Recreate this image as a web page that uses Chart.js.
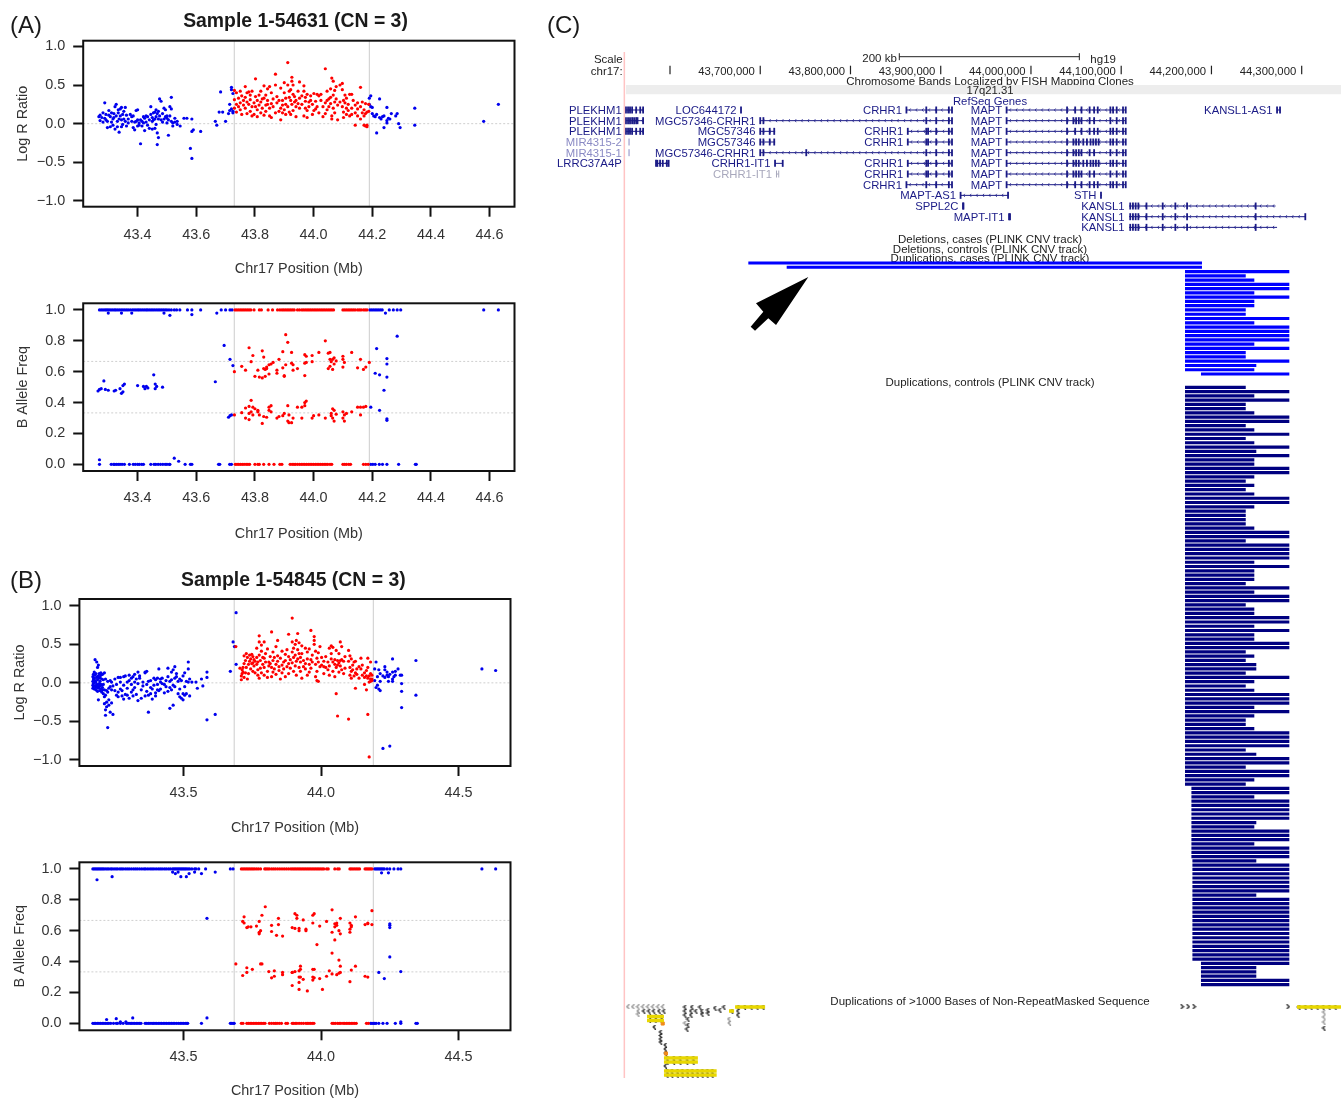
<!DOCTYPE html>
<html><head><meta charset="utf-8">
<script src="https://cdn.jsdelivr.net/npm/chart.js@4"></script>
<style>
html,body{margin:0;padding:0;background:#fff;width:1341px;height:1100px;overflow:hidden}
canvas{position:absolute;filter:blur(.5px)}
</style></head><body>
<canvas id="a1" style="left:0px;top:0px" width="540" height="278"></canvas>
<canvas id="a2" style="left:0px;top:285px" width="540" height="258"></canvas>
<canvas id="b1" style="left:0px;top:560px" width="540" height="277"></canvas>
<canvas id="b2" style="left:0px;top:845px" width="540" height="255"></canvas>
<canvas id="c" style="left:540px;top:0px" width="801" height="1100"></canvas>
<script>
// ---------- Panel A data: each row is [position, value, value, ...] ----------
const xTicksA=[43.4,43.6,43.8,44.0,44.2,44.4,44.6];
const xTicksB=[43.5,44.0,44.5];
const lrrTicks=[-1,-0.5,0,0.5,1];
const bafTicks=[0,0.2,0.4,0.6,0.8,1];
const bafGuides=[1/3,2/3];
const breaksA=[43.7295,44.19];
const breaksB=[43.684,44.19];

const a1Blue=[[43.268,.09],[43.272,.04,.11],[43.278,.08],[43.282,.14,.02],[43.288,.27,.07],[43.292,.12,.05],[43.297,.03,-.05],[43.302,.11,.17],[43.307,.09,-.04],[43.311,.14,.02],[43.316,-.02,.06],[43.319,.13,.08],[43.323,-.07,.22],[43.327,.25,.1],[43.331,.03,-.04],[43.334,.14,.18],[43.337,-.11,.06],[43.341,.19,.1],[43.345,.21,-.04,.05],[43.349,.12,-.01],[43.353,.16,.06],[43.358,.03,.21],[43.362,.11,-.03],[43.368,.06,.01],[43.375,.12],[43.38,.09,.03],[43.385,.1,-.05],[43.39,.02,-.08],[43.395,.17,.03],[43.4,.18,.05,-.03],[43.405,.01,-.02],[43.41,.05,-.26],[43.415,.03,-.03],[43.42,.09,.01],[43.424,.07,-.09],[43.429,.1,.02],[43.434,.09,-.02],[43.44,-.06,.05],[43.445,.22,.12],[43.45,.08,-.07,.03],[43.454,.14,.05],[43.459,.15,.06,-.06],[43.463,.09,.18,-.01],[43.467,.13,-.12,-.27],[43.471,.16,.06,-.18],[43.475,.32,.1],[43.48,.29,.05],[43.485,.13,.02],[43.49,.2,.06],[43.495,.18,.09],[43.5,.1,.07,.01],[43.505,.05,-.15],[43.51,.22,.1],[43.515,.34,.03,.19],[43.52,.01,-.03],[43.527,.07,.02],[43.535,-.01,.03],[43.545,-.03],[43.558,.07],[43.568,.07],[43.58,-.32],[43.585,.06,-.45,-.1],[43.59,-.08],[43.615,-.1],[43.665,.03],[43.67,-.02],[43.678,.15],[43.683,.41],[43.69,.15],[43.7,.03],[43.71,.13],[43.714,.17,.25],[43.72,.47,.44,.19],[43.725,.39,.14,.16],[44.19,.33,.25],[44.195,.36,.22],[44.2,.21,.13],[44.205,.1],[44.21,.09],[44.215,.12,-.12],[44.225,.32,.08],[44.23,.06],[44.235,.09],[44.24,.1,-.05],[44.25,.21,.04,.01],[44.255,.07],[44.26,.06],[44.265,.13],[44.28,.1],[44.285,.13],[44.29,0],[44.295,-.05],[44.345,.2,-.02],[44.58,.03],[44.63,.25]];
const a1Red=[[43.73,.43,.31,.2],[43.737,.25,.4,.15],[43.744,.33,.22],[43.75,.42,.27,.18],[43.755,.36,.12],[43.761,.3,.24],[43.767,.48,.34,.2],[43.773,.28,.13,.4],[43.779,.25,.41],[43.784,.31,.37,.16],[43.79,.42,.22,.1],[43.797,.27,.12],[43.802,.58,.35,.22],[43.808,.3,.18,.09],[43.814,.37,.24],[43.82,.42,.28,.14],[43.825,.2,.32],[43.831,.49,.33,.11],[43.837,.24,.37,.16],[43.843,.45,.25,.3],[43.85,.2,.48,.1],[43.856,.08,.26,.4],[43.862,.22,.32],[43.87,.64,.5,.14],[43.875,.27,.35],[43.882,.16,.3],[43.888,.46,.05,.2],[43.894,.3,.24,.14],[43.9,.53,.4,.18],[43.905,.25,.12,.33],[43.912,.79,.5,.22],[43.917,.34,.15,.42],[43.922,.44,.3,.12],[43.926,.6,.55,.25],[43.93,.38,.5,.17],[43.935,.28,.35],[43.94,.3,.22,.09],[43.947,.42,.26],[43.952,.54,.33,.2],[43.96,.36,.25],[43.967,.49,.42,.1],[43.972,.34,.2,.29],[43.978,.38,.08,.17],[43.984,.28,.22],[43.99,.3,.36],[43.996,.25,.12],[44.001,.39,.17],[44.007,.29,.19],[44.012,.38,.22],[44.018,.36,.14],[44.025,.38,.3],[44.032,.09,.22],[44.04,.71,.27,.13],[44.046,.42,.3,.18],[44.052,.22,.32],[44.058,.45,.34,.26],[44.062,.59,.1,.06],[44.067,.55,.37,.2],[44.072,.28,.14,.43],[44.077,.48,.32],[44.082,.24,.05],[44.09,.5,.28],[44.098,.52,.44,.22],[44.102,.3,.15,.08],[44.107,.37,.27],[44.112,.2,.12,.33],[44.118,.25,.17],[44.123,.38,.1],[44.13,.38,.2,.12],[44.135,.3],[44.142,-.02,.14,.24],[44.15,.27,.19,.1],[44.16,.47,.22,.06],[44.166,.14,.28],[44.172,.18,.1,-.02],[44.177,.26,-.03,.13],[44.182,-.04,-.02,.15],[44.188,.25,.16]];
const a2BlueTop=[43.27,43.276,43.282,43.288,43.293,43.298,43.303,43.309,43.315,43.321,43.326,43.332,43.338,43.344,43.35,43.356,43.362,43.368,43.375,43.382,43.388,43.394,43.4,43.405,43.411,43.417,43.423,43.429,43.434,43.44,43.446,43.452,43.458,43.464,43.47,43.476,43.482,43.488,43.494,43.5,43.507,43.515,43.525,43.533,43.544,43.57,43.585,43.615,43.685,43.7,43.715,43.722,44.192,44.198,44.204,44.21,44.216,44.222,44.228,44.234,44.258,44.272,44.285,44.297,44.58,44.63];
const a2BlueBottom=[43.27,43.31,43.318,43.322,43.328,43.334,43.34,43.347,43.355,43.372,43.385,43.392,43.4,43.406,43.414,43.42,43.445,43.456,43.462,43.47,43.478,43.486,43.494,43.5,43.508,43.51,43.562,43.58,43.585,43.676,43.68,43.714,43.72,44.195,44.202,44.21,44.224,44.235,44.25,44.29,44.347,44.35];
const a2BlueMid=[[43.265,.475],[43.27,.485,.03],[43.276,.49],[43.285,.54],[43.29,.485],[43.3,.48,.98],[43.32,.475],[43.325,.48],[43.34,.49],[43.345,.46,.98],[43.35,.47,.51],[43.355,.52],[43.38,.98],[43.4,.51],[43.42,.505],[43.425,.49],[43.43,.505],[43.435,.495],[43.455,.58],[43.46,.49,.52],[43.465,.505],[43.485,.5],[43.49,.98],[43.51,.965],[43.525,.04],[43.54,.02],[43.585,.97],[43.665,.535],[43.67,.98],[43.695,.77],[43.71,.305],[43.715,.68,.315],[43.72,.32],[43.725,.64],[44.195,.37],[44.21,.59],[44.215,.75],[44.225,.58,.35],[44.24,.48],[44.245,.98],[44.25,.565,.65,.685,.295,.285],[44.285,.83]];
const a2RedTop=[43.732,43.738,43.744,43.75,43.756,43.762,43.768,43.774,43.78,43.786,43.797,43.815,43.822,43.845,43.86,43.877,43.885,43.892,43.898,43.904,43.91,43.916,43.922,43.928,43.934,43.945,43.952,43.96,43.966,43.972,43.978,43.984,43.99,43.996,44.002,44.008,44.014,44.02,44.026,44.032,44.038,44.044,44.05,44.056,44.062,44.068,44.1,44.106,44.112,44.118,44.124,44.13,44.136,44.142,44.15,44.156,44.162,44.17,44.176,44.182];
const a2RedBottom=[43.733,43.739,43.745,43.751,43.757,43.763,43.77,43.776,43.782,43.8,43.81,43.815,43.83,43.848,43.865,43.885,43.892,43.92,43.927,43.933,43.938,43.945,43.952,43.958,43.964,43.97,43.976,43.982,43.988,43.994,44.0,44.006,44.012,44.018,44.024,44.03,44.036,44.042,44.048,44.056,44.062,44.1,44.106,44.112,44.12,44.126,44.17,44.178,44.186];
const a2RedMid=[[43.73,.6,.32],[43.755,.635,.335],[43.768,.61,.3,.365],[43.78,.755,.375,.33,.29],[43.787,.665,.415,.34],[43.793,.705,.37,.32],[43.8,.57,.36],[43.81,.61,.34,.35],[43.815,.565,.32],[43.825,.735,.56,.265],[43.83,.695,.62,.31],[43.835,.57,.615],[43.84,.62,.63,.305],[43.848,.645,.585,.37,.35],[43.855,.65,.38,.34],[43.862,.66],[43.875,.61,.59,.3],[43.882,.68,.31],[43.895,.73,.625,.315],[43.9,.575,.57,.33],[43.905,.84,.645],[43.912,.79,.38,.28],[43.916,.27,.32],[43.925,.725,.655,.27],[43.93,.61,.645,.3],[43.945,.62,.37],[43.96,.3,.37],[43.97,.71,.655,.575,.4,.38],[43.975,.7,.66,.41],[43.995,.705,.665,.3],[44.0,.315],[44.018,.725,.32],[44.04,.8,.3],[44.05,.62,.72],[44.056,.725,.68,.635],[44.06,.665,.33,.315],[44.065,.615,.68,.3,.36],[44.07,.69,.65,.35,.28],[44.077,.67,.325],[44.1,.7,.68,.63,.34,.3],[44.105,.66,.32,.28],[44.112,.33],[44.13,.725,.34],[44.15,.625,.37],[44.16,.68,.37,.32],[44.17,.615,.37],[44.178,.63,.375],[44.19,.66]];

// ---------- Panel B data ----------
const b1Blue=[[43.17,.08,.02,-.03,-.07],[43.172,.11,.05,-.01,-.05],[43.175,.14,.06,0,-.08],[43.178,.3,.1,.03,-.04],[43.181,.12,.01,-.06,-.09],[43.184,.27,.07,-.02,-.05],[43.187,.2,.04,-.03,-.11],[43.19,.23,.09,-.07,-.22],[43.193,.12,.06,-.01,-.05],[43.196,.07,.02,-.04,-.1],[43.199,.1,.13,-.02,-.08],[43.202,.05,-.03,-.12],[43.205,.11,-.06,-.09],[43.208,.04,-.02,-.14],[43.212,.13,-.09,-.18,-.27],[43.216,.05,-.16,-.42,-.35],[43.22,-.1,-.25,-.31],[43.224,.02,-.12,-.58],[43.228,-.22,-.29,-.07],[43.233,.03,-.05,-.38],[43.238,-.09,-.26,.01],[43.243,-.04,-.41],[43.25,.05,-.1],[43.256,-.02,-.16],[43.262,.07,-.12,-.18],[43.27,.01,-.08,.07],[43.276,-.17,-.1],[43.282,.08,-.03,-.21],[43.288,-.15,.09],[43.295,.01,-.07,-.16],[43.302,.1,.03,-.2],[43.31,-.12,-.02,.06],[43.316,.08,-.09,-.17],[43.322,.11,.01,-.06],[43.328,-.15,.05],[43.334,.14,-.01,-.23],[43.34,.06,.09],[43.346,-.09,-.2],[43.352,.01,-.04],[43.36,.14,.13,-.17],[43.366,.15,-.11,-.02],[43.372,.02,-.16,-.38],[43.38,-.06,-.14,.03],[43.386,-.08,-.21],[43.392,.06,-.03],[43.398,.04,-.17,-.13],[43.405,.06,-.02,-.09],[43.41,.18,-.1],[43.416,-.08,.05,.01],[43.422,-.01,.06],[43.43,-.13,-.02],[43.436,.03,-.05],[43.443,.19,.08,-.11],[43.45,.02,-.06,-.33],[43.456,.14,.04,-.09],[43.462,.17,-.03,-.29],[43.468,.21,.06,-.05],[43.474,.08,.12],[43.48,-.14,.02],[43.486,.05,-.08,-.18],[43.492,.03,-.2],[43.498,-.22,-.14,.09],[43.504,.13,-.05,-.16],[43.51,.02,-.14],[43.517,.27,.18,.01],[43.522,-.17,.05],[43.53,.01],[43.545,.01],[43.55,-.07],[43.565,.05],[43.57,-.04],[43.585,.14,.07,-.48],[43.615,-.41],[43.67,.15],[43.68,.53],[43.685,.47],[43.691,.91,.24],[44.195,.18,.03],[44.2,.27,-.06],[44.205,.08,-.03],[44.21,.17,-.08],[44.215,.12,.02,-.1],[44.225,.09,-.85],[44.232,.17,.21,.07],[44.24,.1,.14],[44.245,.08,.02],[44.25,.11,-.82],[44.26,.14,.02,.05,.31],[44.265,.08],[44.27,.15,.1],[44.28,.18],[44.288,.1],[44.293,.1,-.01,-.11,-.32],[44.345,.29,-.16],[44.585,.18],[44.635,.16]];
const b1Red=[[43.69,.47],[43.705,.19],[43.71,.09,.04],[43.713,.17,.12],[43.716,.2,.14],[43.72,.35,.25,.07],[43.725,.29,.13],[43.728,.38,.2],[43.732,.33,.05],[43.736,.24,.12],[43.74,.28,.36],[43.744,.18,.31],[43.748,.37,.25],[43.752,.26,.15,.34],[43.756,.3,.22],[43.76,.13,.28],[43.766,.45,.33,.24],[43.77,.27,.1,.17],[43.775,.36,.61,.53,.06],[43.779,.29,.19],[43.783,.49,.41,.13],[43.788,.33,.24],[43.793,.53,.32,.1,.2],[43.798,.38,.27],[43.805,.44,.15,.07],[43.81,.27,.22],[43.815,.34,.25],[43.82,.66,.2,.08],[43.825,.4,.29,.14],[43.83,.33,.18],[43.836,.47,.24,.11],[43.842,.55,.28,.35],[43.847,.16,.21],[43.852,.32,.05],[43.858,.41,.23,.13],[43.864,.27,.18],[43.87,.37,.29,.08],[43.876,.43,.21],[43.882,.63,.25,.34,.12],[43.888,.3,.19],[43.895,.84,.53,.4,.26],[43.9,.45,.33,.15],[43.906,.5,.36,.22],[43.91,.55,.28,.1],[43.915,.64,.43,.31],[43.92,.38,.2,.52],[43.925,.33,.15,.27],[43.93,.48,.38,.06],[43.936,.29,.21],[43.943,.45,.25,.18],[43.95,.4,.31,.1],[43.957,.44,.24,.14],[43.963,.68,.3,.19],[43.968,.36,.27],[43.975,.6,.55,.5],[43.98,.41,.24,.08],[43.985,.32,.15,.03],[43.99,.39,.27,.02],[43.996,.47,.21],[44.002,.33,.23],[44.01,.28,.21,.12],[44.017,.34,.2],[44.025,.27,.17],[44.03,.45,.22,.1],[44.037,.48,.38,.31],[44.043,.46,.27,.15],[44.05,.3,.24,.08],[44.055,.42,.2,-.14],[44.06,.29,.23,-.43],[44.065,.38,.26,.14],[44.07,.53,.29,.22],[44.075,.47,.3,.17],[44.082,.28,.12],[44.087,.34,.19],[44.1,.42,.28,-.47],[44.105,.35,.2,.1],[44.11,.31,.15,.06],[44.115,.23,.17],[44.12,.09,.27],[44.125,.28,.13,-.07],[44.13,.18,.11],[44.138,.21,.06],[44.145,.32,.18],[44.15,.1,.23],[44.158,.07,-.02,.13],[44.165,.09,.16,-.09],[44.17,.06,.2,.32,-.41],[44.175,.01,.09,-.96],[44.18,.12,.05,.02,.27],[44.185,.1,.03,.05]];
const b2BlueTop=[43.17,43.175,43.18,43.185,43.19,43.195,43.2,43.205,43.21,43.216,43.222,43.228,43.235,43.24,43.247,43.254,43.26,43.268,43.274,43.28,43.288,43.295,43.302,43.31,43.318,43.325,43.332,43.34,43.348,43.356,43.362,43.37,43.378,43.385,43.392,43.4,43.408,43.415,43.422,43.43,43.437,43.445,43.452,43.46,43.465,43.47,43.475,43.48,43.485,43.49,43.495,43.5,43.505,43.51,43.516,43.522,43.53,43.54,43.545,43.555,43.58,43.67,43.68,44.195,44.2,44.205,44.21,44.215,44.22,44.225,44.23,44.24,44.25,44.265,44.28,44.29,44.585,44.635];
const b2BlueBottom=[43.17,43.175,43.18,43.186,43.192,43.198,43.204,43.21,43.216,43.222,43.228,43.235,43.245,43.255,43.26,43.27,43.28,43.292,43.298,43.305,43.31,43.316,43.322,43.328,43.334,43.34,43.345,43.36,43.366,43.372,43.378,43.385,43.39,43.396,43.402,43.408,43.414,43.42,43.426,43.432,43.438,43.444,43.45,43.456,43.462,43.468,43.475,43.482,43.488,43.494,43.5,43.506,43.512,43.515,43.565,43.67,43.675,43.68,43.684,44.18,44.185,44.19,44.195,44.2,44.21,44.225,44.24,44.27,44.29,44.345,44.35];
const b2BlueMid=[[43.185,.93],[43.22,.025],[43.24,.95],[43.255,.03],[43.27,.01],[43.315,.035],[43.29,.01],[43.46,.98],[43.47,.97],[43.48,.98],[43.49,.95],[43.51,.95],[43.52,.97],[43.54,.98],[43.565,.97],[43.585,.035,.68],[43.615,.98],[44.21,.33],[44.22,.975],[44.23,.29],[44.245,.975],[44.25,.645,.635,.62,.43],[44.29,.01,.335]];
const b2RedTop=[43.71,43.716,43.722,43.728,43.734,43.74,43.746,43.752,43.758,43.765,43.772,43.78,43.795,43.8,43.806,43.812,43.82,43.827,43.834,43.842,43.85,43.858,43.866,43.874,43.882,43.89,43.896,43.902,43.908,43.914,43.92,43.926,43.932,43.938,43.944,43.95,43.956,43.962,43.968,43.974,43.98,43.986,43.992,43.998,44.004,44.01,44.02,44.026,44.05,44.06,44.066,44.105,44.11,44.116,44.122,44.128,44.134,44.14,44.16,44.165,44.17,44.175,44.18,44.185];
const b2RedBottom=[43.71,43.716,43.73,43.736,43.742,43.748,43.754,43.76,43.766,43.772,43.778,43.784,43.79,43.796,43.812,43.82,43.828,43.834,43.84,43.848,43.856,43.872,43.878,43.895,43.9,43.906,43.912,43.92,43.928,43.936,43.945,43.95,43.956,43.962,43.968,43.974,44.04,44.046,44.052,44.06,44.066,44.072,44.08,44.086,44.092,44.098,44.104,44.11,44.116,44.122,44.128,44.165,44.172];
const b2RedMid=[[43.69,.385],[43.715,.66,.31],[43.72,.69,.65],[43.73,.36,.62,.33],[43.735,.625],[43.745,.625],[43.75,.35],[43.765,.63],[43.775,.66,.59,.58],[43.78,.385,.6],[43.785,.7,.385],[43.797,.755],[43.81,.335],[43.82,.635,.595,.295],[43.83,.34,.305],[43.838,.57],[43.845,.68,.64],[43.86,.565,.33,.315],[43.895,.62,.33,.245,.33],[43.905,.71,.615,.335],[43.912,.68,.7],[43.92,.615,.6,.34,.3,.22,.265],[43.925,.37,.3,.35],[43.935,.67,.285],[43.945,.6,.61],[43.95,.21],[43.97,.7,.65,.3,.35,.28],[43.975,.71,.295,.35],[43.985,.51],[43.995,.63,.29],[44.005,.22],[44.02,.66,.305],[44.03,.34],[44.04,.735,.59,.455,.32],[44.05,.645,.54,.625],[44.057,.65,.635,.315],[44.065,.6,.41,.325],[44.07,.68,.58,.37,.33],[44.105,.65,.61,.59,.27],[44.11,.625,.635,.345],[44.125,.69,.37],[44.16,.64,.305],[44.17,.645,.65,.3],[44.185,.73,.64]];

// ---------- Panel C data ----------
const chrTicks=[43.6,43.7,43.8,43.9,44.0,44.1,44.2,44.3];
const chrTickLabels=["","43,700,000","43,800,000","43,900,000","44,000,000","44,100,000","44,200,000","44,300,000"];
const scaleBar=[43.8541,44.0536];
const bandSpan=[43.5512,44.3436];
const windowEdge=43.5494;
const plekExons=[43.5512,43.5535,43.5557,43.558,43.5625,43.567,43.5702];
const plekExons2=[43.5512,43.5535,43.5557,43.558,43.5602,43.5625,43.564,43.5702];
const crhrExons=[43.862,43.884,43.895,43.909,43.9125];
const crhrExonsB=[43.8635,43.884,43.886,43.895,43.909,43.9125];
const mgcCrhrExons=[43.7,43.7035,43.884,43.895,43.909,43.9125];
const mgcCrhrExonsB=[43.7,43.7035,43.751,43.884,43.895,43.909,43.9125];
const mgcExons=[43.7,43.7035,43.7105,43.7155];
const maptExons=[43.973,44.04,44.049,44.056,44.065,44.07,44.074,44.088,44.091,44.095,44.102,44.105];
const maptExonsB=[43.973,44.04,44.047,44.05,44.053,44.056,44.065,44.07,44.088,44.095,44.102,44.105];
const maptExonsC=[43.973,44.04,44.047,44.05,44.053,44.058,44.062,44.066,44.069,44.072,44.075,44.088,44.091,44.095,44.102,44.105];
const lrrcExons=[43.5845,43.586,43.589,43.592,43.5965,43.5985];
const kanslExons=[44.11,44.113,44.116,44.119,44.128,44.146,44.16,44.173,44.249];
const kanslExonsLong=[44.11,44.113,44.116,44.119,44.128,44.146,44.16,44.173,44.249,44.304];
// [name, row, start, end, exons, shade, label in left margin]
const genes=[
["PLEKHM1",0,43.5512,43.5702,plekExons,0,1],["LOC644172",0,43.6787,43.6795,[43.6787],0,0],["CRHR1",0,43.862,43.9125,crhrExons,0,0],["MAPT",0,43.973,44.105,maptExons,0,0],["KANSL1-AS1",0,44.2727,44.276,[44.2727,44.276],0,0],
["PLEKHM1",1,43.5512,43.5702,plekExons2,0,1],["MGC57346-CRHR1",1,43.6997,43.9125,mgcCrhrExons,0,0],["MAPT",1,43.973,44.105,maptExonsB,0,0],
["PLEKHM1",2,43.5512,43.5702,plekExons,0,1],["MGC57346",2,43.6997,43.7165,mgcExons,0,0],["CRHR1",2,43.8635,43.9125,crhrExonsB,0,0],["MAPT",2,43.973,44.105,maptExons,0,0],
["MIR4315-2",3,43.5546,43.5555,[43.5546],1,1],["MGC57346",3,43.6997,43.7165,mgcExons,0,0],["CRHR1",3,43.8635,43.9125,crhrExonsB,0,0],["MAPT",3,43.973,44.105,maptExonsC,0,0],
["MIR4315-1",4,43.5546,43.5555,[43.5546],1,1],["MGC57346-CRHR1",4,43.6997,43.9125,mgcCrhrExonsB,0,0],["MAPT",4,43.973,44.105,maptExonsB,0,0],
["LRRC37A4P",5,43.5845,43.5985,lrrcExons,0,1],["CRHR1-IT1",5,43.7164,43.7249,[43.7164,43.7249],0,0],["CRHR1",5,43.8635,43.9125,crhrExonsB,0,0],["MAPT",5,43.973,44.105,maptExonsC,0,0],
["CRHR1-IT1",6,43.718,43.7205,[43.718,43.7205],2,0],["CRHR1",6,43.8635,43.9125,crhrExonsB,0,0],["MAPT",6,43.973,44.105,maptExonsB,0,0],
["CRHR1",7,43.862,43.9125,crhrExons,0,0],["MAPT",7,43.973,44.105,maptExons,0,0],
["MAPT-AS1",8,43.922,43.9746,[43.922,43.9746],0,0],["STH",8,44.0776,44.0785,[44.0776],0,0],
["SPPL2C",9,43.9247,43.9255,[43.9247,43.9252],0,0],["KANSL1",9,44.1087,44.271,kanslExons,0,0],
["MAPT-IT1",10,43.9757,43.977,[43.9757,43.9768],0,0],["KANSL1",10,44.1087,44.304,kanslExonsLong,0,0],
["KANSL1",11,44.1087,44.2727,kanslExons,0,0]];
const A=44.1707,B=44.1778,C=44.1789,D=44.1884,E=44.1895;
const F=44.2863,S=44.238,M=44.2475,L=44.2497;
const dupCaseStarts=[43.6868,43.7293,A,A,A,A,A,A,A,A,A,A,A,A,A,A,A,A,A,A,A,A,A,A,A,A,D];
const dupCaseEnds=[44.1895,44.1895,F,S,M,F,F,M,F,M,M,S,S,F,M,F,F,F,F,M,F,S,S,F,L,M,F];
const dupCtrlStarts=[A,A,A,A,A,A,A,A,A,A,A,A,A,A,A,A,A,A,A,A,A,A,A,A,A,A,A,A,A,A,A,A,A,A,A,
A,A,A,A,A,A,A,A,A,A,A,A,A,A,A,A,A,A,A,A,A,A,A,A,A,A,A,A,A,A,A,A,A,A,A,A,A,A,A,A,A,A,A,A,A,A,A,A,A,A,A,A,A,A,A,A,A,A,A,B,
B,B,B,B,B,B,B,B,B,B,B,B,B,B,B,B,C,C,C,C,C,C,C,C,C,C,C,C,C,C,C,C,C,C,C,C,C,C,C,C,D,D,D,D,D,D,D,D,D,E,E];
const dupCtrlEnds=[S,F,M,F,S,S,M,F,F,S,M,F,S,M,F,L,F,M,M,F,F,M,S,M,S,M,F,F,M,S,S,S,S,M,F,
F,S,F,F,F,F,M,F,M,M,M,S,F,M,F,F,S,M,M,F,F,M,F,M,M,F,F,S,M,S,L,L,S,F,M,S,M,F,F,F,M,F,M,S,S,M,F,F,F,F,S,L,F,F,S,F,F,M,S,F,
F,M,F,F,F,F,F,L,M,F,F,F,M,F,F,F,L,F,F,F,F,F,F,F,L,F,F,F,F,F,F,F,F,F,F,F,F,F,F,F,F,L,L,L,F,F];
// non-repeat duplications: [position, track position], and yellow spans [start,end,track]
const segYellow=[[43.5745,43.5933,1016.5],[43.5745,43.5933,1020.5],[43.5933,43.6309,1058],[43.5933,43.6309,1062],[43.5933,43.6517,1071],[43.5933,43.6517,1075],[43.6721,43.7054,1007],[43.6654,43.671,1011],[44.2948,44.3436,1007]];
const segOrange=[[43.5919,1023.5],[43.5955,1053.5]];
const segGrey=[[43.5535,1006.7],[43.559,1006.7],[43.5645,1006.7],[43.57,1006.7],[43.5755,1006.7],[43.581,1006.7],[43.5867,1006.7],[43.592,1006.7],[43.565,1011],[43.5645,1014],[43.6655,1019],[43.666,1023],[43.6166,1023],[44.3247,1012],[44.3247,1017],[44.3247,1022]];
const segLeft=[[43.571,1011],[43.5767,1011],[43.582,1011],[43.588,1011],[43.5933,1011],[43.5773,1016.5],[43.5835,1016.5],[43.59,1016.5],[43.5773,1020.5],[43.5835,1020.5],[43.59,1020.5],[43.5828,1027],[43.5897,1032],[43.5897,1035.5],[43.5897,1039],[43.5897,1042],[43.595,1045],[43.595,1049],[43.595,1053],[43.5967,1058],[43.604,1058],[43.611,1058],[43.6186,1058],[43.6255,1058],[43.5967,1062],[43.604,1062],[43.611,1062],[43.6186,1062],[43.6255,1062],[43.595,1066],[43.5967,1071],[43.602,1071],[43.608,1071],[43.6133,1071],[43.619,1071],[43.6244,1071],[43.63,1071],[43.6355,1071],[43.641,1071],[43.6466,1071],[43.5967,1075],[43.602,1075],[43.608,1075],[43.6133,1075],[43.619,1075],[43.6244,1075],[43.63,1075],[43.6355,1075],[43.641,1075],[43.6466,1075],[43.6166,1007],[43.6166,1011],[43.6166,1015],[43.6199,1019],[43.6244,1007],[43.6233,1011],[43.6233,1015],[43.6288,1011],[43.6199,1025],[43.6188,1029],[43.6355,1011],[43.6421,1010],[43.6499,1008],[43.6554,1010],[43.6598,1007],[43.6332,1007],[43.6421,1013],[43.6355,1014],[43.6754,1007],[43.6826,1007],[43.6898,1007],[43.6964,1007],[43.703,1007],[43.6685,1011],[43.6754,1011],[43.6754,1015],[44.297,1007],[44.3037,1007],[44.3103,1007],[44.317,1007],[44.3236,1007],[44.3303,1007],[44.337,1007],[44.3247,1028]];
const segRight=[[44.1674,1006.7],[44.174,1006.7],[44.1807,1006.7],[44.2848,1006.7]];
const arrowOutline=[[43.7533,277],[43.6953,303.3],[43.7034,311.7],[43.6894,326.7],[43.6942,330.7],[43.7089,318.3],[43.7175,325],[43.7533,277]];
const cTexts=[["Scale",43.5476,60,"right"],["chr17:",43.5476,71.7,"right"],["200 kb",43.8513,59,"right"],["hg19",44.0658,60,"left"],
["Chromosome Bands Localized by FISH Mapping Clones",43.9546,82,"center"],
["Deletions, cases (PLINK CNV track)",43.9546,240,"center"],["Deletions, controls (PLINK CNV track)",43.9546,249.5,"center"],["Duplications, cases (PLINK CNV track)",43.9546,259,"center"],
["Duplications, controls (PLINK CNV track)",43.9546,383,"center"],["Duplications of >1000 Bases of Non-RepeatMasked Sequence",43.9546,1002,"center"]];

// ---------- Helpers ----------
const FONT='"Liberation Sans", Arial, sans-serif';
const BLUE='#0000ee',RED='#ff0000',GUIDE='#cfcfcf',BREAK='#cccccc';
const cols=rows=>rows.flatMap(r=>r.slice(1).map(v=>({x:r[0],y:v})));
const band=(xs,v)=>xs.map(x=>({x,y:v}));
const fmt=v=>(v<0?'\u2212':'')+Math.abs(v).toFixed(1);

const boxPlugin={id:'box',afterDatasetsDraw(ch){const a=ch.chartArea,c=ch.ctx;c.save();c.lineWidth=2;c.strokeStyle='#111';c.strokeRect(a.left,a.top,a.right-a.left,a.bottom-a.top);c.restore();}};
const cornerLabel=(text,x,y,font,align)=>({id:'corner'+text.replace(/\W/g,''),afterDraw(ch){const c=ch.ctx;c.save();c.font=font||('24px '+FONT);c.fillStyle='#1a1a1a';c.textAlign=align||'left';c.textBaseline='middle';c.fillText(text,x,y);c.restore();}});

function panel(id,o){
  const xr=o.xRange,yr=o.yRange;
  const hl=o.guides.map(g=>({type:'scatter',data:[{x:xr[0],y:g},{x:xr[1],y:g}],showLine:true,borderColor:GUIDE,borderWidth:1,borderDash:[2,2],pointRadius:0,order:5}));
  const vl=o.breaks.map(b=>({type:'scatter',data:[{x:b,y:yr[0]},{x:b,y:yr[1]}],showLine:true,borderColor:BREAK,borderWidth:1,pointRadius:0,order:4}));
  const pts=(data,col)=>({data,backgroundColor:col,borderColor:col,pointRadius:1.6,pointBorderWidth:0,showLine:false,order:col===RED?1:2});
  const extra=[];
  if(o.corner)extra.push(cornerLabel(...o.corner));
  if(o.title)extra.push(cornerLabel(o.title[0],o.title[1],o.title[2],'bold 19.4px '+FONT,'center'));
  new Chart(document.getElementById(id),{type:'scatter',
    data:{datasets:[...hl,...vl,pts(o.blue,BLUE),pts(o.red,RED)]},
    plugins:[boxPlugin,...extra],
    options:{responsive:false,animation:false,devicePixelRatio:1,
      layout:{autoPadding:false,padding:{left:0,right:o.rightPad,top:o.top,bottom:0}},
      plugins:{legend:{display:false},tooltip:{enabled:false},title:{display:false}},
      scales:{
        x:{type:'linear',min:xr[0],max:xr[1],
          afterBuildTicks(s){s.ticks=o.xTicks.map(v=>({value:v}));},
          afterFit(s){s.height=o.xHeight;},
          border:{display:false},
          grid:{drawOnChartArea:false,drawTicks:true,tickLength:10,tickWidth:2,tickColor:'#111'},
          ticks:{autoSkip:false,maxRotation:0,color:'#333',padding:o.xPad||8,font:{family:FONT,size:14.4},callback:v=>v.toFixed(1)},
          title:{display:true,text:'Chr17 Position (Mb)',color:'#333',padding:{top:0,bottom:0},font:{family:FONT,size:14.4,lineHeight:1.2}}},
        y:{type:'linear',min:yr[0],max:yr[1],
          afterBuildTicks(s){s.ticks=o.yTicks.map(v=>({value:v}));},
          afterFit(s){s.width=o.yWidth;},
          border:{display:false},
          grid:{drawOnChartArea:false,drawTicks:true,tickLength:10,tickWidth:2,tickColor:'#111'},
          ticks:{autoSkip:false,color:'#333',padding:8,font:{family:FONT,size:14.4},callback:fmt},
          title:{display:true,text:o.yTitle,color:'#333',padding:{top:o.yTitlePad,bottom:0},font:{family:FONT,size:14.4,lineHeight:1.2}}}
      }}});
}
const xA=[43.2145,44.685],xB=[43.121,44.689];
panel('a1',{xRange:xA,yRange:[-1.074,1.073],xTicks:xTicksA,yTicks:lrrTicks,guides:[0],breaks:breaksA,blue:cols(a1Blue),red:cols(a1Red),title:['Sample 1-54631 (CN = 3)',295.5,21.6],top:40.7,yTitle:'Log R Ratio',yWidth:83.2,yTitlePad:14,xHeight:71.3,xPad:10,rightPad:25.5,corner:['(A)',10,26.4]});
panel('a2',{xRange:xA,yRange:[-0.043,1.043],xTicks:xTicksA,yTicks:bafTicks,guides:bafGuides,breaks:breaksA,blue:[...band(a2BlueTop,1),...band(a2BlueBottom,0),...cols(a2BlueMid)],red:[...band(a2RedTop,1),...band(a2RedBottom,0),...cols(a2RedMid)],top:18.3,yTitle:'B Allele Freq',yWidth:83.2,yTitlePad:14,xHeight:72,rightPad:25.5});
panel('b1',{xRange:xB,yRange:[-1.078,1.087],xTicks:xTicksB,yTicks:lrrTicks,guides:[0],breaks:breaksB,blue:cols(b1Blue),red:cols(b1Red),title:['Sample 1-54845 (CN = 3)',293.3,20.8],top:39,yTitle:'Log R Ratio',yWidth:79.4,yTitlePad:11,xHeight:71,rightPad:29.5,corner:['(B)',10,21]});
panel('b2',{xRange:xB,yRange:[-0.045,1.043],xTicks:xTicksB,yTicks:bafTicks,guides:bafGuides,breaks:breaksB,blue:[...band(b2BlueTop,1),...band(b2BlueBottom,0),...cols(b2BlueMid)],red:[...band(b2RedTop,1),...band(b2RedBottom,0),...cols(b2RedMid)],top:17.3,yTitle:'B Allele Freq',yWidth:79.4,yTitlePad:11,xHeight:69.7,rightPad:29.5});

// ---------- Panel C ----------
function glyph(dir,col){const k=document.createElement('canvas');k.width=5;k.height=5;const g=k.getContext('2d');g.strokeStyle=col;g.lineWidth=1.3;g.beginPath();
  if(dir<0){g.moveTo(3.8,.3);g.lineTo(1.2,2.5);g.lineTo(3.8,4.7);}else{g.moveTo(1.2,.3);g.lineTo(3.8,2.5);g.lineTo(1.2,4.7);}g.stroke();return k;}
const ROW0=110,ROWSTEP=10.67,NAVY='#000080';
const shade=['#1a1a86','#8a8ac4','#a8a8bc'];
const rowY=r=>ROW0+r*ROWSTEP;
const segs=(list)=>list.flatMap(g=>[{x:g[0],y:g[2]},{x:g[1],y:g[2]},{x:null,y:null}]);
const pxy=a=>a.map(p=>({x:p[0],y:p[1]}));
const bars=(st,en,y0,dy)=>st.flatMap((s,i)=>[{x:s,y:y0+i*dy},{x:en[i],y:y0+i*dy},{x:null,y:null}]);
const line=(data,col,w,extra)=>Object.assign({data,showLine:true,borderColor:col,borderWidth:w,pointRadius:0,borderCapStyle:'butt',spanGaps:false},extra||{});
const geneLines=s=>genes.filter(g=>g[5]===s).flatMap(g=>[{x:g[2],y:rowY(g[1])},{x:g[3],y:rowY(g[1])},{x:null,y:null}]);
const geneExons=s=>genes.filter(g=>g[5]===s).flatMap(g=>g[4].map(x=>({x,y:rowY(g[1])})));
const exonDs=(s)=>({data:geneExons(s),showLine:false,pointStyle:'line',rotation:90,pointRadius:3.5,borderColor:shade[s],pointBorderColor:shade[s],pointBorderWidth:s?1:1.8,backgroundColor:shade[s]});
const glyphDs=(a,dir,col)=>({data:pxy(a),showLine:false,pointStyle:glyph(dir,col),pointRadius:2.5});

const cPlugin={id:'cText',
  beforeDatasetsDraw(ch){const c=ch.ctx,X=ch.scales.x,Y=ch.scales.y;c.save();c.font='11.5px '+FONT;c.textBaseline='middle';c.fillStyle='#222';
    cTexts.forEach(t=>{c.textAlign=t[3];c.fillText(t[0],X.getPixelForValue(t[1]),Y.getPixelForValue(t[2]));});
    c.font='11.3px '+FONT;c.textAlign='right';chrTicks.forEach((t,i)=>{if(chrTickLabels[i])c.fillText(chrTickLabels[i],X.getPixelForValue(t)-5.5,Y.getPixelForValue(72));});
    c.restore();},
  afterDatasetsDraw(ch){const c=ch.ctx,X=ch.scales.x,Y=ch.scales.y;c.save();c.font='11.3px '+FONT;c.textBaseline='middle';
    c.fillStyle='#222';c.textAlign='center';c.fillText('17q21.31',X.getPixelForValue(43.9546),Y.getPixelForValue(91));
    c.fillStyle='#1a1a86';c.fillText('RefSeq Genes',X.getPixelForValue(43.9546),Y.getPixelForValue(102));
    c.textAlign='right';
    genes.forEach(g=>{const y=Y.getPixelForValue(rowY(g[1])),s=X.getPixelForValue(g[2]),e=X.getPixelForValue(g[3]);
      c.fillStyle=shade[g[5]];
      c.fillText(g[0],g[6]?X.getPixelForValue(43.5465):s-4.5,y+1);
      if(e-s>12){c.strokeStyle=shade[g[5]];c.lineWidth=.8;
        for(let p=s+3;p<e-1;p+=6.4){c.beginPath();c.moveTo(p+1.2,y-1.5);c.lineTo(p,y);c.lineTo(p+1.2,y+1.5);c.stroke();}}
    });
    c.restore();}};

new Chart(document.getElementById('c'),{type:'scatter',
  data:{datasets:[
    line([{x:windowEdge,y:52},{x:windowEdge,y:1078}],'#ffc4c4',1.5),
    line([{x:bandSpan[0],y:89.6},{x:bandSpan[1],y:89.6}],'#ededed',9.3),
    line([{x:scaleBar[0],y:56.7},{x:scaleBar[1],y:56.7}],'#222',1),
    {data:scaleBar.map(x=>({x,y:56.7})),showLine:false,pointStyle:'line',rotation:90,pointRadius:3.5,pointBorderColor:'#222',pointBorderWidth:1},
    {data:chrTicks.map(x=>({x,y:70})),showLine:false,pointStyle:'line',rotation:90,pointRadius:4.3,pointBorderColor:'#222',pointBorderWidth:1.2},
    line(geneLines(0),shade[0],1),line(geneLines(1),shade[1],1),line(geneLines(2),shade[2],1),
    exonDs(0),exonDs(1),exonDs(2),
    line(bars(dupCaseStarts,dupCaseEnds,263,4.27),'#0000ff',3.2),
    line(bars(dupCtrlStarts,dupCtrlEnds,387.3,4.267),NAVY,3.2),
    line(segs(segYellow),'#e8d700',3.6),
    {data:pxy(segOrange),showLine:false,pointStyle:'rect',pointRadius:2.2,backgroundColor:'#f08a1c',borderColor:'#f08a1c'},
    glyphDs(segGrey,-1,'#909090'),
    glyphDs(segLeft,-1,'#222'),
    glyphDs(segRight,1,'#222'),
    {data:pxy(arrowOutline),showLine:true,borderColor:'#000',borderWidth:0,backgroundColor:'#000',pointRadius:0,fill:'shape',tension:0}
  ]},
  plugins:[cPlugin,cornerLabel('(C)',7,26)],
  options:{responsive:false,animation:false,devicePixelRatio:1,
    layout:{autoPadding:false,padding:0},
    plugins:{legend:{display:false},tooltip:{enabled:false},title:{display:false}},
    scales:{x:{type:'linear',display:false,min:43.45594,max:44.34356},y:{type:'linear',display:false,reverse:true,min:0,max:1100}}}});
</script></body></html>
